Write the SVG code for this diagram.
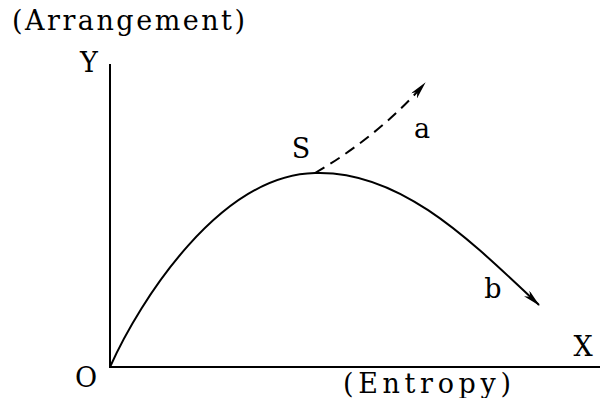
<svg xmlns="http://www.w3.org/2000/svg" width="601" height="398" viewBox="0 0 601 398">
<style>
text{font-family:"DejaVu Serif","Liberation Serif",serif;font-size:27px;fill:#000}
.c{text-anchor:middle}
.ln{fill:none;stroke:#000;stroke-width:2}
</style>
<defs>
<marker id="ah" viewBox="0 0 18 8" refX="17" refY="4" markerWidth="18" markerHeight="8" markerUnits="userSpaceOnUse" orient="auto">
<path d="M0,0 L18,4 L0,8 L5,4 Z" fill="#000"/>
</marker>
</defs>
<rect width="601" height="398" fill="#fff"/>
<g id="axes">
<line class="ln" x1="110" y1="64" x2="110" y2="368"/>
<line class="ln" x1="109" y1="367" x2="600" y2="367"/>
</g>
<g id="connectors">
<path id="curve-b" class="ln" d="M110,367 C140,300 220,175 315,173 C400,170 470,240 539,305" marker-end="url(#ah)"/>
<path id="curve-a" class="ln" stroke-dasharray="11,7" d="M315,173 C355,150 395,118 425,83" marker-end="url(#ah)"/>
</g>
<g id="labels">
<text x="12" y="30" textLength="233" lengthAdjust="spacing">(Arrangement)</text>
<text class="c" x="89" y="72">Y</text>
<text class="c" x="301" y="158">S</text>
<text class="c" x="422" y="138">a</text>
<text class="c" x="493" y="298">b</text>
<text class="c" x="583" y="356">X</text>
<text class="c" x="86" y="387">O</text>
<text x="343" y="393" textLength="168" lengthAdjust="spacing">(Entropy)</text>
</g>
</svg>
